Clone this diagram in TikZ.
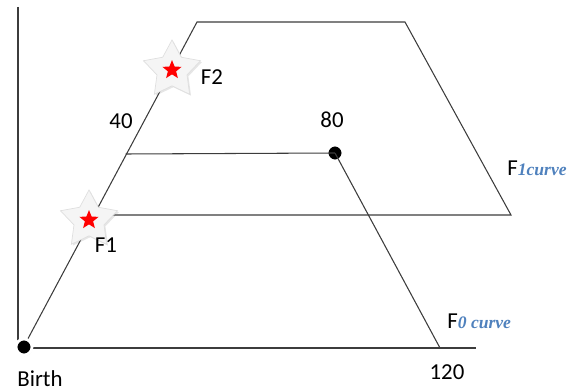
\documentclass[tikz,border=0pt]{standalone}
\usepackage{fontspec}
\setmainfont{Carlito}
\newfontfamily\curvefont{Liberation Serif}
\usetikzlibrary{shapes.geometric,shadows}
\definecolor{curveblue}{RGB}{79,129,189}
\definecolor{edgegray}{RGB}{60,60,60}
\newcommand{\curvetxt}[1]{{\fontsize{10}{12}\curvefont\bfseries\itshape\color{curveblue}#1}}
\begin{document}
\begin{tikzpicture}[x=0.02cm,y=-0.02cm,
    font=\fontsize{13}{15}\selectfont,
    edge/.style={edgegray,line width=0.6pt},
    agedot/.style={circle,fill=black,draw=white,line width=1.6pt,inner sep=0pt,
      minimum size=0.32cm,drop shadow={opacity=0.3,shadow xshift=0.3pt,shadow yshift=-0.6pt}},
    starbig/.style={star,star points=5,star point ratio=1.9,inner sep=0pt,minimum size=1.2cm,
      fill=gray!8,draw=gray!25,drop shadow={opacity=0.2,shadow xshift=0.8pt,shadow yshift=-0.8pt}},
    starred/.style={star,star points=5,star point ratio=2.3,inner sep=0pt,minimum size=0.4cm,fill=red},
    curvelabel/.style={anchor=west,inner sep=0pt}]
    \useasboundingbox (0,0) rectangle (576,392);

    % axes
    \coordinate (ytop) at (18,7);
    \coordinate (origin) at (18,348);
    \coordinate (xend) at (476,348);
    \draw[edge] (ytop) -- (origin) -- (xend);

    % F0 trapezoid corners
    \coordinate (birth) at (23,348);
    \coordinate (topL) at (197,22);
    \coordinate (topR) at (405,22);
    \coordinate (f1L) at (93.4,215);
    \coordinate (f1R) at (511,215);
    \coordinate (midL) at (125.6,154);
    \coordinate (end120) at (440,348);

    \draw[edge] (birth) -- (topL) -- (topR) -- (f1R) -- (f1L);
    \node[agedot] (dot80) at (335,153) {};
    \draw[edge] (midL) -- (dot80.center);
    \draw[edge] (dot80.center) -- (end120);
    \node[agedot] (dotbirth) at (24,347) {};

    % stars
    \node[starbig] (starF2) at (172,70) {};
    \node[starred] at (starF2) {};
    \node[starbig] (starF1) at (89,220) {};
    \node[starred] at (starF1) {};

    % labels
    \node (lbirth) at (40,379) {Birth};
    \node (l40) at (121,121) {40};
    \node (l80) at (332,120) {80};
    \node (l120) at (447,372) {120};
    \node (lF1) at (106,245) {F1};
    \node (lF2) at (212,77) {F2};
    \node[curvelabel] (lF1curve) at (507,168) {F\curvetxt{1curve}};
    \node[curvelabel] (lF0curve) at (447,321) {F\curvetxt{0 curve}};
\end{tikzpicture}
\end{document}
